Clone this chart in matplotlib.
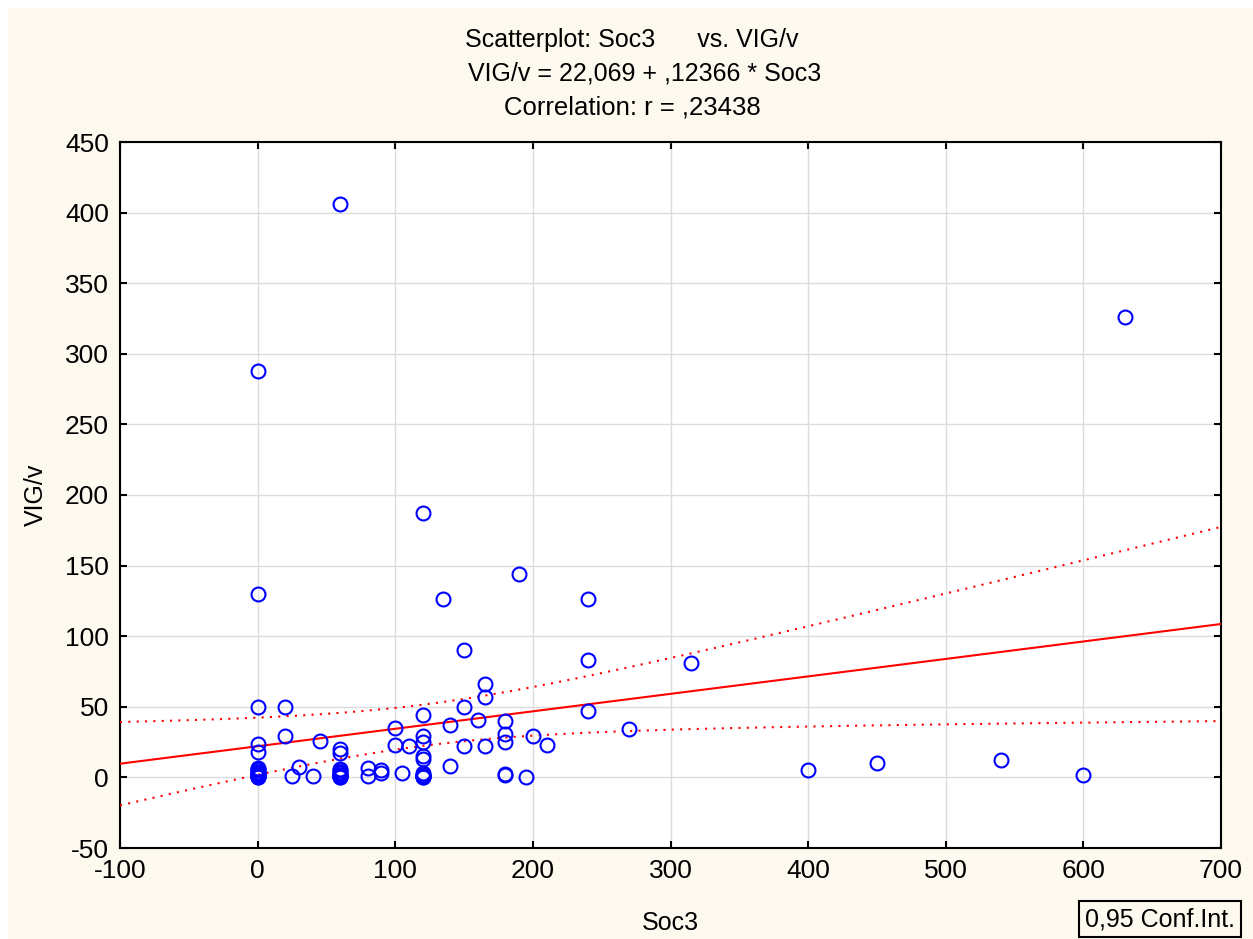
import numpy as np
import matplotlib.pyplot as plt
from matplotlib.patches import Rectangle

plt.rcParams['font.family'] = ['Liberation Sans', 'DejaVu Sans']
plt.rcParams['axes.unicode_minus'] = False

# Soc3 / VIG/v pairs (dense clusters at 0, 60, 120 overlap)
soc3 = [60, 0, 630, 120, 190, 0, 135, 240, 150, 240, 315, 165, 165,
        0, 20, 150, 240, 120, 160, 180, 140, 100, 270, 20, 120, 180, 200,
        45, 0, 120, 180, 100, 110, 150, 165, 210, 0, 60, 60, 120, 120,
        140, 30, 80, 0, 0, 0, 0, 0, 0, 0, 0, 60, 60, 60, 60, 60, 60,
        90, 90, 105, 180, 180, 120, 120, 120, 120, 25, 40, 80, 195,
        400, 450, 540, 600,
        0, 0, 0, 0, 60, 60, 60, 60, 120, 120, 120]
vig = [406, 288, 326, 187, 144, 130, 126, 126, 90, 83, 81, 66, 57,
       50, 50, 50, 47, 44, 41, 40, 37, 35, 34, 29, 29, 31, 29,
       26, 24, 25, 25, 23, 22, 22, 22, 23, 18, 20, 17, 15, 13,
       8, 7.5, 7, 0, 1, 2, 3, 4, 5, 6, 7, 0, 1, 2, 4, 5, 6,
       5, 3, 3, 2.5, 2, 0, 1, 2, 3, 1, 1, 1, 0.5,
       5, 10.5, 12.5, 2,
       0, 1, 2, 3, 0, 1, 2, 3, 0, 1, 2]

intercept = 22.069
slope = 0.12366
r_value = ",23438"

x = np.array(soc3, dtype=float)
y = np.array(vig, dtype=float)

fig = plt.figure(figsize=(12.53, 9.39), dpi=100)
fig.patch.set_facecolor('white')
fig.patches.append(Rectangle((8 / 1253, 0), 1, 1 - 8 / 939, transform=fig.transFigure,
                             facecolor='#fdf9ef', edgecolor='none', zorder=-10))

ax = fig.add_axes([120 / 1253, 91 / 939, 1101 / 1253, 706 / 939])
ax.set_facecolor('white')
ax.set_xlim(-100, 700)
ax.set_ylim(-50, 450)
ax.set_xticks(np.arange(-100, 701, 100))
ax.set_yticks(np.arange(-50, 451, 50))
ax.grid(True, color='#dcdcdc', lw=1)
ax.set_axisbelow(True)
ax.tick_params(direction='in', top=True, right=True, length=5, width=1.5,
               labelsize=19, pad=8)
for s in ax.spines.values():
    s.set_linewidth(1.5)

# regression line and 95% confidence band
xs = np.linspace(-100, 700, 200)
yhat = intercept + slope * xs
n = len(x)
resid = y - (intercept + slope * x)
s_err = np.sqrt(np.sum(resid ** 2) / (n - 2))
sxx = np.sum((x - x.mean()) ** 2)
band = 1.99 * s_err * np.sqrt(1 / n + (xs - x.mean()) ** 2 / sxx)
ax.plot(xs, yhat, color='red', lw=1.5, zorder=3)
ax.plot(xs, yhat + band, color='red', lw=1.5, ls=(0, (1, 3)), zorder=3)
ax.plot(xs, yhat - band, color='red', lw=1.5, ls=(0, (1, 3)), zorder=3)

ax.plot(x, y, 'o', mfc='none', mec='blue', ms=10, mew=1.5, zorder=4)

ax.set_xlabel('Soc3', fontsize=18, labelpad=20)
ax.set_ylabel('VIG/v', fontsize=18, labelpad=12)

fig.text(632 / 1253, 1 - 40 / 939, 'Scatterplot: Soc3      vs. VIG/v',
         ha='center', va='center', fontsize=18)
fig.text(645 / 1253, 1 - 73 / 939, 'VIG/v = 22,069 + ,12366 * Soc3',
         ha='center', va='center', fontsize=18)
fig.text(632 / 1253, 1 - 107 / 939, 'Correlation: r = ' + r_value,
         ha='center', va='center', fontsize=18.5)

fig.text(1160 / 1253, 1 - 919 / 939, '0,95 Conf.Int.', ha='center', va='center',
         fontsize=18,
         bbox=dict(boxstyle='square,pad=0.25', facecolor='#fdf9ef', edgecolor='black', lw=1.5))

fig.savefig('out.png', dpi=100, facecolor=fig.get_facecolor())
